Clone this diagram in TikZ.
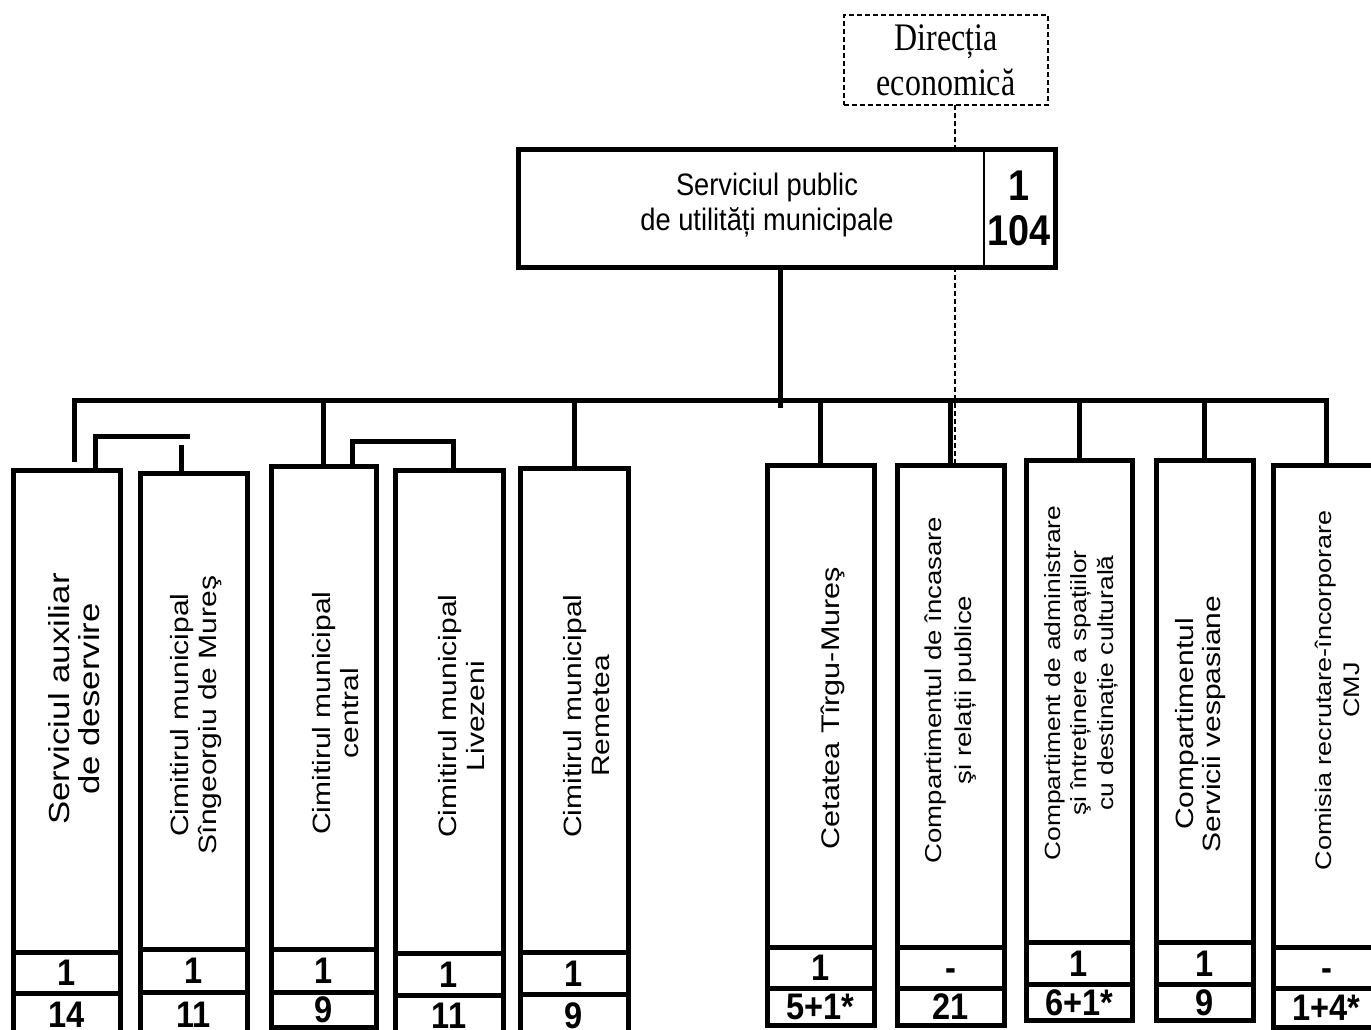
\documentclass[tikz,border=0pt]{standalone}
\usepackage{fontspec}
\setmainfont{Liberation Sans}
\newfontfamily\cajafont[FakeStretch=0.88]{Liberation Sans}
\newfontfamily\vertfont[FakeStretch=1.2]{Liberation Sans}
\newfontfamily\numfont[FakeStretch=0.88]{Liberation Sans}
\newfontfamily\dirfont[FakeStretch=0.82]{Liberation Serif}
\usetikzlibrary{positioning}
\tikzset{
	x=1pt, y=-1pt, % Coordenadas en pixeles, el eje y hacia abajo
	node distance=0pt, % Las filas de cada casilla se tocan
	linea/.style={line width=5pt}, % Conectores gruesos
	punteado/.style={line width=2.5pt, dash pattern=on 5pt off 3pt}, % Linea de la direccion
	caja/.style={draw, line width=5pt, outer sep=0pt, inner sep=0pt, minimum width=107pt}, % Casillas
	fila/.style={caja, font=\numfont\bfseries\fontsize{37}{37}\selectfont, text height=26.5pt, text depth=0pt}, % Filas con numeros
	vert/.style={rotate=90, align=center, inner sep=0pt} % Texto vertical
}

\begin{document}
\begin{tikzpicture}
	\useasboundingbox (0,0) rectangle (1371,1030);
	\clip (0,0) rectangle (1371,1030);

	\node[caja, punteado, minimum width=204pt, minimum height=90pt, align=center, font={\dirfont\fontsize{39}{45}\selectfont}] (d) at (946,60) {Direcția\\economică};
	\node[caja, minimum width=537pt, minimum height=117pt] (p) at (786.5,208.5) {};
	\node[align=center, font={\cajafont\fontsize{31}{35}\selectfont}] (pt) at (767,205) {Serviciul public\\de utilități municipale};
	\node[align=center, font={\numfont\bfseries\fontsize{43}{45}\selectfont}] (pn) at (1019,208) {1\\104};

	\node[caja, minimum height=482pt] (s1) at (66.5,711) {};
	\node[fila, minimum height=41pt, below=of s1] (s1a) {1};
	\node[fila, minimum height=43pt, below=of s1a] (s1b) {14};
	\node[vert, font={\vertfont\fontsize{29}{30}\selectfont}] (s1t) at (74,699) {Serviciul auxiliar\\de deservire};

	\node[caja, minimum height=476pt] (s2) at (193.5,711) {};
	\node[fila, minimum height=43pt, below=of s2] (s2a) {1};
	\node[fila, minimum height=44pt, below=of s2a] (s2b) {11};
	\node[vert, font={\vertfont\fontsize{25}{28}\selectfont}] (s2t) at (196,715) {Cimitirul municipal\\Sîngeorgiu de Mureş};

	\node[caja, minimum width=105pt, minimum height=483pt] (s3) at (323.5,707.5) {};
	\node[fila, minimum width=105pt, minimum height=43pt, below=of s3] (s3a) {1};
	\node[fila, minimum width=105pt, minimum height=35pt, below=of s3a] (s3b) {9};
	\node[vert, font={\vertfont\fontsize{25}{28}\selectfont}] (s3t) at (336,713) {Cimitirul municipal\\central};

	\node[caja, minimum width=108pt, minimum height=483pt] (s4) at (449,711.5) {};
	\node[fila, minimum width=108pt, minimum height=42pt, below=of s4] (s4a) {1};
	\node[fila, minimum width=108pt, minimum height=41pt, below=of s4a] (s4b) {11};
	\node[vert, font={\vertfont\fontsize{25}{28}\selectfont}] (s4t) at (462,716) {Cimitirul municipal\\Livezeni};

	\node[caja, minimum width=108pt, minimum height=484pt] (s5) at (574,710) {};
	\node[fila, minimum width=108pt, minimum height=42pt, below=of s5] (s5a) {1};
	\node[fila, minimum width=108pt, minimum height=42pt, below=of s5a] (s5b) {9};
	\node[vert, font={\vertfont\fontsize{25}{28}\selectfont}] (s5t) at (587,716) {Cimitirul municipal\\Remetea};

	\node[caja, minimum height=482pt] (s6) at (820.5,706) {};
	\node[fila, minimum height=41pt, below=of s6] (s6a) {1};
	\node[fila, minimum height=37pt, below=of s6a] (s6b) {5+1*};
	\node[vert, font={\vertfont\fontsize{25.5}{28}\selectfont}] (s6t) at (833,708) {Cetatea Tîrgu-Mureş};

	\node[caja, minimum height=482pt] (s7) at (950.5,706) {};
	\node[fila, minimum height=41pt, below=of s7] (s7a) {-};
	\node[fila, minimum height=37pt, below=of s7a] (s7b) {21};
	\node[vert, font={\vertfont\fontsize{23}{30}\selectfont}] (s7t) at (951,690) {Compartimentul de încasare\\şi relații publice};

	\node[caja, minimum width=106pt, minimum height=482pt] (s8) at (1079,701) {};
	\node[fila, minimum width=106pt, minimum height=42pt, below=of s8] (s8a) {1};
	\node[fila, minimum width=106pt, minimum height=36pt, below=of s8a] (s8b) {6+1*};
	\node[vert, font={\vertfont\fontsize{22}{26.5}\selectfont}] (s8t) at (1081,683) {Compartiment de administrare\\şi întreținere a spațiilor\\cu destinație culturală};

	\node[caja, minimum width=97pt, minimum height=482pt] (s9) at (1204.5,701) {};
	\node[fila, minimum width=97pt, minimum height=42pt, below=of s9] (s9a) {1};
	\node[fila, minimum width=97pt, minimum height=36pt, below=of s9a] (s9b) {9};
	\node[vert, font={\vertfont\fontsize{25}{27}\selectfont}] (s9t) at (1201,724) {Compartimentul\\Servicii vespasiane};

	\node[caja, minimum height=482pt] (s10) at (1326.5,706) {};
	\node[fila, minimum height=41pt, below=of s10] (s10a) {-};
	\node[fila, minimum height=39pt, below=of s10a] (s10b) {1+4*};
	\node[vert, font={\vertfont\fontsize{22.5}{28}\selectfont}] (s10t) at (1337,690) {Comisia recrutare-încorporare\\CMJ};

	\coordinate (div) at (984,0);
	\draw[line width=2.5pt] (p.north -| div) -- (p.south -| div);

	\coordinate (bus) at (780,400);
	\draw[linea] (p.south -| bus) -- ([yshift=-8pt]bus);
	\draw[linea] ([xshift=7.5pt, yshift=8pt]s1.north) |- (bus) -| (s10.north);
	\draw[linea] (s3.north) -- (s3.north |- bus)
		(s5.north) -- (s5.north |- bus)
		(s6.north) -- (s6.north |- bus)
		(s7.north) -- (s7.north |- bus)
		(s8.north) -- (s8.north |- bus)
		(s9.north) -- (s9.north |- bus);

	\coordinate (k1) at (190,436);
	\coordinate (k2) at (181,445);
	\coordinate (k3) at (352,441);
	\draw[linea] ([xshift=28.5pt]s1.north) |- (k1);
	\draw[linea] (k2) -- (k2 |- s2.north);
	\draw[linea] (k3 |- s3.north) -- (k3) -| ([xshift=4pt]s4.north);

	\coordinate (dl) at (955,0);
	\draw[punteado] (d.south -| dl) -- (p.north -| dl)
		(p.south -| dl) -- (s7.north -| dl);
\end{tikzpicture}
\end{document}
